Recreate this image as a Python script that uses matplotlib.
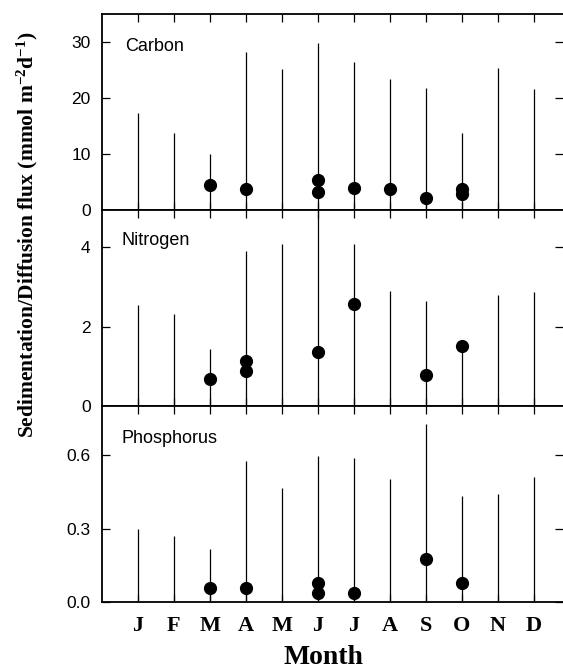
import numpy as np
import matplotlib.pyplot as plt

months = ['J', 'F', 'M', 'A', 'M', 'J', 'J', 'A', 'S', 'O', 'N', 'D']
month_pos = np.arange(1, 13)

# sedimentation flux (vertical lines), one per month
carbon_sed = [17.4, 13.8, 10.1, 28.3, 25.3, 29.9, 26.5, 23.4, 21.9, 13.8, 25.4, 21.6]
nitrogen_sed = [2.55, 2.31, 1.44, 3.90, 4.09, 5.2, 4.07, 2.89, 2.64, 1.51, 2.81, 2.88]
phosphorus_sed = [0.30, 0.269, 0.219, 0.577, 0.466, 0.597, 0.588, 0.505, 0.726, 0.435, 0.443, 0.512]

# diffusion flux (dots): month index, value
carbon_diff_m = [3, 4, 6, 6, 7, 8, 9, 10, 10]
carbon_diff = [4.6, 3.75, 5.4, 3.2, 4.05, 3.75, 2.27, 3.8, 3.0]
nitrogen_diff_m = [3, 4, 4, 6, 7, 9, 10]
nitrogen_diff = [0.69, 1.13, 0.90, 1.36, 2.57, 0.79, 1.51]
phosphorus_diff_m = [3, 4, 6, 6, 7, 9, 10]
phosphorus_diff = [0.059, 0.059, 0.079, 0.039, 0.039, 0.175, 0.078]

panels = [
    ('Carbon', carbon_sed, carbon_diff_m, carbon_diff, 35, [0, 10, 20, 30], ['0', '10', '20', '30'], 0.05, 0.835),
    ('Nitrogen', nitrogen_sed, nitrogen_diff_m, nitrogen_diff, 4.93, [0, 2, 4], ['0', '2', '4'], 0.043, 0.847),
    ('Phosphorus', phosphorus_sed, phosphorus_diff_m, phosphorus_diff, 0.80, [0, 0.3, 0.6], ['0.0', '0.3', '0.6'], 0.043, 0.836),
]

fig = plt.figure(figsize=(5.63, 6.68), dpi=100)
left, right = 101.7 / 563, 1.0
top, bottom = 1 - 14.3 / 668, 1 - 602.3 / 668
h = (top - bottom) / 3

axes = []
for i, (name, sed, dm, dv, ymax, yt, ytl, lx, ly) in enumerate(panels):
    ax = fig.add_axes([left, top - (i + 1) * h, right - left, h])
    ax.vlines(month_pos, 0, sed, color='black', lw=0.9)
    ax.plot(dm, dv, 'o', color='black', ms=8.5, clip_on=False)
    ax.set_xlim(0, (563 - 101.7) / 36)
    ax.set_ylim(0, ymax)
    ax.set_yticks(yt)
    ax.set_yticklabels(ytl, family='Liberation Sans', fontsize=12.5)
    ax.set_xticks(month_pos)
    ax.spines['right'].set_visible(False)
    for s in ['left', 'top', 'bottom']:
        ax.spines[s].set_linewidth(1.3)
    ax.tick_params(axis='both', direction='in', length=6, width=0.9,
                   top=True, right=True, pad=8)
    ax.text(lx, ly, name, transform=ax.transAxes, family='Liberation Sans',
            fontsize=13, va='center', ha='left')
    if i < 2:
        ax.set_xticklabels([])
    else:
        ax.set_xticklabels(months, family='Liberation Serif', fontweight='bold', fontsize=16)
        ax.tick_params(axis='x', pad=10)
    axes.append(ax)

fig.text(323 / 563, 1 - 657 / 668, 'Month', ha='center', va='center',
         family='Liberation Serif', fontweight='bold', fontsize=20)

plt.rcParams['mathtext.default'] = 'regular'
fig.text(0.048, 0.649, r'Sedimentation/Diffusion flux (mmol m$^{-2}$d$^{-1}$)',
         rotation=90, ha='center', va='center', family='Liberation Serif',
         fontweight='bold', fontsize=15.5)

plt.savefig('out.png', dpi=100)
